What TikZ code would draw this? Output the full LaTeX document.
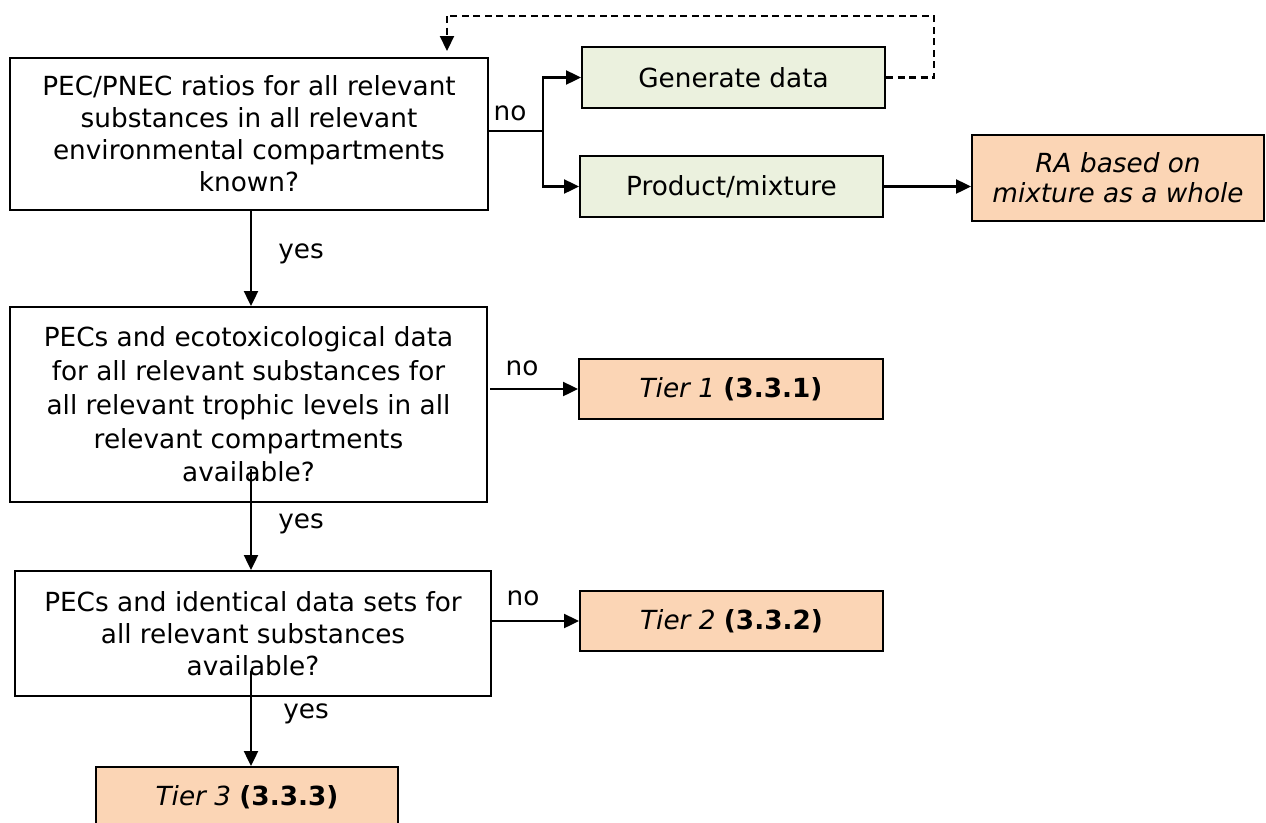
\documentclass[tikz,border=0pt]{standalone}
\usepackage{fontspec}
\setmainfont{DejaVu Sans}
\usetikzlibrary{arrows.meta,calc}
\definecolor{greenfill}{HTML}{EBF1DE}
\definecolor{orangefill}{HTML}{FBD5B5}
\newcommand{\dfont}{\fontsize{26.3}{32}\selectfont}
\newcommand{\dfontb}{\fontsize{26.3}{33.7}\selectfont}
\begin{document}
\begin{tikzpicture}[x=1pt,y=-1pt,
  qbox/.style={draw, line width=2pt, align=center, inner sep=0pt, font=\dfont},
  gbox/.style={draw, fill=greenfill, line width=2pt, align=center, inner sep=0pt,
    minimum width=303pt, minimum height=61pt, font=\dfont},
  obox/.style={draw, fill=orangefill, line width=2pt, align=center, inner sep=0pt,
    minimum width=304pt, minimum height=60pt, font=\dfont},
  arr/.style={line width=2.4pt, -{Triangle[length=15pt,width=14pt]}},
  dline/.style={line width=2.2pt, dash pattern=on 7pt off 4.5pt},
  lbl/.style={anchor=base, inner sep=0pt, font=\dfont}
]
\useasboundingbox (0,0) rectangle (1266,822);
\clip (0,0) rectangle (1266,822);

\node[qbox, minimum width=478pt, minimum height=152pt] (a) at (249,134)
  {PEC/PNEC ratios for all relevant\\substances in all relevant\\environmental compartments\\known?};
\node[gbox] (gen) at (733.5,77.5) {Generate data};
\node[gbox] (prod) at (731.5,186.5) {Product/mixture};
\node[obox, minimum width=292pt, minimum height=86pt, font=\fontsize{26.3}{30}\selectfont\itshape] (ra) at (1118,178)
  {RA based on\\mixture as a whole};

\node[qbox, minimum width=477pt, minimum height=195pt, font=\dfontb] (b) at (248.5,404.5)
  {PECs and ecotoxicological data\\for all relevant substances for\\all relevant trophic levels in all\\relevant compartments\\available?};
\node[obox] (t1) at (731,389) {\textit{Tier 1} \textbf{(3.3.1)}};

\node[qbox, minimum width=476pt, minimum height=125pt] (c) at (253,633.5)
  {PECs and identical data sets for\\all relevant substances\\available?};
\node[obox, minimum width=303pt] (t2) at (731.5,621) {\textit{Tier 2} \textbf{(3.3.2)}};

\node[obox, minimum width=302pt] (t3) at (247,797) {\textit{Tier 3} \textbf{(3.3.3)}};

\coordinate (br) at (543,131);
\coordinate (vx) at (251,0);
\coordinate (d1) at (934,16);
\coordinate (d2) at (447,16);

\draw[line width=2pt] (a.east |- br) -- (br);
\draw[arr] (br) |- (gen.west);
\draw[arr] (br) |- (prod.west);
\draw[arr] (prod.east) -- (prod.east -| ra.west);
\draw[dline] (gen.east) -| (d1) -- (d2);
\draw[arr, dline, shorten >=6pt] (d2) -- (d2 |- a.north);

\draw[arr] (a.south -| vx) -- (b.north -| vx);
\draw[arr] ($(b.south -| vx)+(0,-34)$) -- (c.north -| vx);
\draw[arr] ($(c.south -| vx)+(0,-26)$) -- (t3.north -| vx);
\draw[arr] ($(b.east |- t1.west)+(2,0)$) -- (t1.west);
\draw[arr] ($(c.east |- t2.west)+(-2,0)$) -- (t2.west);

\node[lbl] (no1) at (510,120) {no};
\node[lbl] (no2) at (522,375) {no};
\node[lbl] (no3) at (523,605) {no};
\node[lbl] (yes1) at (301,258) {yes};
\node[lbl] (yes2) at (301,528) {yes};
\node[lbl] (yes3) at (306,718) {yes};
\end{tikzpicture}
\end{document}
